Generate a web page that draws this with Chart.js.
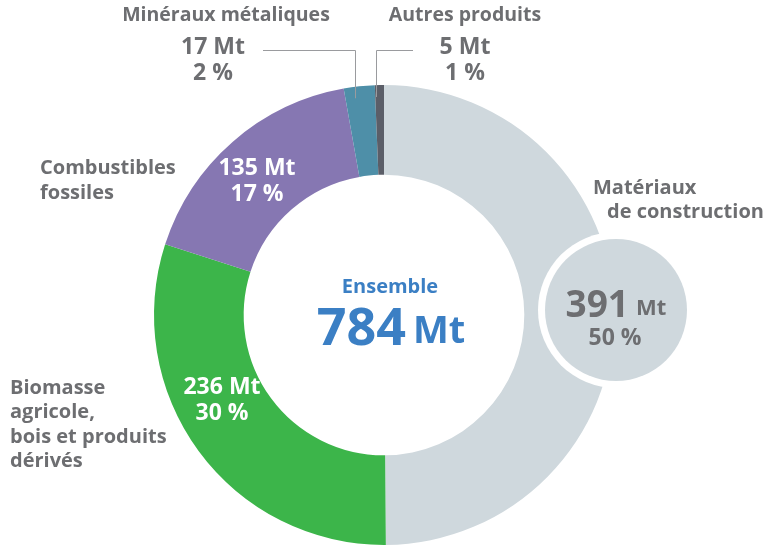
<!DOCTYPE html>
<html>
<head>
<meta charset="utf-8">
<script src="https://cdn.jsdelivr.net/npm/chart.js@4"></script>
<style>
  html, body { margin: 0; padding: 0; background: #fff; }
  #graphique { display: block; }
</style>
</head>
<body>
<canvas id="graphique" width="766" height="548"></canvas>
<script>
// données du graphique
const categories = ['Matériaux de construction', 'Biomasse agricole, bois et produits dérivés', 'Combustibles fossiles', 'Minéraux métaliques', 'Autres produits']
const valeurs = [391, 236, 135, 17, 5]
const pourcentages = [50, 30, 17, 2, 1]
const couleurs = ['#cfd8dd', '#3cb54a', '#8677b2', '#4e8fa8', '#5b5e68']
const total = 784

const gris = '#6d6e71'
const bleu = '#3b7fc4'
const police = '"Open Sans", sans-serif'

function texte(ctx, t, x, y, taille, couleur, align) {
    ctx.font = 'bold ' + taille + 'px ' + police
    ctx.fillStyle = couleur
    ctx.textAlign = align || 'center'
    ctx.textBaseline = 'middle'
    ctx.fillText(t, x, y)
}

// point au milieu d'une part, à un rayon donné
function pointPart(arc, r) {
    let a = (arc.startAngle + arc.endAngle) / 2
    return { x: arc.x + Math.cos(a) * r, y: arc.y + Math.sin(a) * r }
}

const etiquettes = {
    id: 'etiquettes',
    afterDraw(chart) {
        let ctx = chart.ctx
        let arcs = chart.getDatasetMeta(0).data
        let cx = arcs[0].x, cy = arcs[0].y, R = arcs[0].outerRadius
        ctx.save()

        // bulle matériaux de construction
        let bx = cx + R + 2, by = cy - 5
        ctx.beginPath(); ctx.arc(bx, by, 78, 0, Math.PI * 2); ctx.fillStyle = '#fff'; ctx.fill()
        ctx.beginPath(); ctx.arc(bx, by, 71, 0, Math.PI * 2); ctx.fillStyle = couleurs[0]; ctx.fill()
        texte(ctx, valeurs[0], bx + 13, by - 4, 37, gris, 'right')
        texte(ctx, 'Mt', bx + 20, by - 1, 22, gris, 'left')
        texte(ctx, pourcentages[0] + ' %', bx - 1, by + 28, 23, gris)
        texte(ctx, 'Matériaux', 593, 188, 20, gris, 'left')
        texte(ctx, 'de construction', 607, 212, 20, gris, 'left')

        // centre
        texte(ctx, 'Ensemble', cx + 6, cy - 28, 20, bleu)
        texte(ctx, total, cx + 22, cy + 15, 52, bleu, 'right')
        texte(ctx, 'Mt', cx + 29, cy + 17, 38, bleu, 'left')

        // biomasse
        texte(ctx, valeurs[1] + ' Mt', 222, 387, 23, '#fff')
        texte(ctx, pourcentages[1] + ' %', 222, 413, 23, '#fff')
        let lignesBio = ['Biomasse', 'agricole,', 'bois et produits', 'dérivés']
        lignesBio.forEach((l, i) => texte(ctx, l, 10, 388 + i * 24.5, 20, gris, 'left'))

        // combustibles fossiles
        texte(ctx, valeurs[2] + ' Mt', 257, 168, 23, '#fff')
        texte(ctx, pourcentages[2] + ' %', 257, 194, 23, '#fff')
        texte(ctx, 'Combustibles', 40, 168, 20, gris, 'left')
        texte(ctx, 'fossiles', 40, 193, 20, gris, 'left')

        // minéraux et autres, avec traits de rappel
        ctx.strokeStyle = '#9a9b9e'
        ctx.lineWidth = 1
        let pm = pointPart(arcs[3], R - 12)
        ctx.beginPath(); ctx.moveTo(263, 50.5); ctx.lineTo(Math.round(pm.x) - 4.5, 50.5); ctx.lineTo(Math.round(pm.x) - 4.5, pm.y); ctx.stroke()
        let pa = pointPart(arcs[4], R - 12)
        ctx.beginPath(); ctx.moveTo(413, 50.5); ctx.lineTo(Math.round(pa.x) - 3.5, 50.5); ctx.lineTo(Math.round(pa.x) - 3.5, pa.y); ctx.stroke()

        texte(ctx, 'Minéraux métaliques', 226, 15, 19.5, gris)
        texte(ctx, valeurs[3] + ' Mt', 213, 47, 23, gris)
        texte(ctx, pourcentages[3] + ' %', 213, 73, 23, gris)
        texte(ctx, 'Autres produits', 465, 15, 19.5, gris)
        texte(ctx, valeurs[4] + ' Mt', 465, 47, 23, gris)
        texte(ctx, pourcentages[4] + ' %', 465, 73, 23, gris)

        ctx.restore()
    }
}

let ctx = document.querySelector('#graphique').getContext('2d')
let anneau = new Chart(ctx, {
    type: 'doughnut',
    data: {
        labels: categories,
        datasets: [{
            data: valeurs,
            backgroundColor: couleurs,
            borderWidth: 0
        }]
    },
    options: {
        responsive: false,
        animation: false,
        cutout: '61%',
        layout: { padding: { top: 85, bottom: 3, left: 154, right: 152 } },
        plugins: {
            legend: { display: false },
            tooltip: { enabled: false }
        }
    },
    plugins: [etiquettes]
})
</script>
</body>
</html>
